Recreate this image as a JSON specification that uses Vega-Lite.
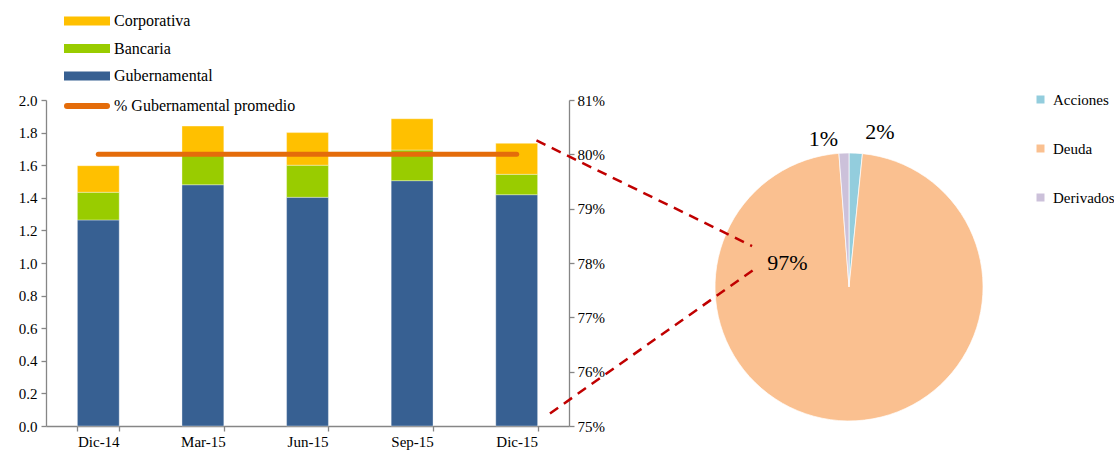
{
  "$schema": "https://vega.github.io/schema/vega-lite/v6.json",
  "width": 523,
  "height": 326,
  "autosize": {"type": "none"},
  "padding": {"left": 46, "top": 100, "right": 545, "bottom": 26},
  "background": "#ffffff",
  "config": {
    "font": "Liberation Serif",
    "view": {"stroke": null},
    "axis": {"labelFont": "Liberation Serif", "labelFontSize": 15, "labelColor": "#000000", "domainColor": "#868686", "tickColor": "#868686", "grid": false, "title": null, "tickSize": 5, "domainWidth": 1.3, "tickWidth": 1.3},
    "legend": {"labelFont": "Liberation Serif", "labelFontSize": 16, "labelColor": "#000000", "title": null, "padding": 0, "labelLimit": 400}
  },
  "datasets": {
    "bonos": [
      {"fecha": "Dic-14", "tipo": "Gubernamental", "orden": 1, "valor": 1.264},
      {"fecha": "Dic-14", "tipo": "Bancaria", "orden": 2, "valor": 0.17},
      {"fecha": "Dic-14", "tipo": "Corporativa", "orden": 3, "valor": 0.163},
      {"fecha": "Mar-15", "tipo": "Gubernamental", "orden": 1, "valor": 1.48},
      {"fecha": "Mar-15", "tipo": "Bancaria", "orden": 2, "valor": 0.18},
      {"fecha": "Mar-15", "tipo": "Corporativa", "orden": 3, "valor": 0.18},
      {"fecha": "Jun-15", "tipo": "Gubernamental", "orden": 1, "valor": 1.403},
      {"fecha": "Jun-15", "tipo": "Bancaria", "orden": 2, "valor": 0.197},
      {"fecha": "Jun-15", "tipo": "Corporativa", "orden": 3, "valor": 0.2},
      {"fecha": "Sep-15", "tipo": "Gubernamental", "orden": 1, "valor": 1.505},
      {"fecha": "Sep-15", "tipo": "Bancaria", "orden": 2, "valor": 0.188},
      {"fecha": "Sep-15", "tipo": "Corporativa", "orden": 3, "valor": 0.192},
      {"fecha": "Dic-15", "tipo": "Gubernamental", "orden": 1, "valor": 1.419},
      {"fecha": "Dic-15", "tipo": "Bancaria", "orden": 2, "valor": 0.125},
      {"fecha": "Dic-15", "tipo": "Corporativa", "orden": 3, "valor": 0.19}
    ],
    "promedio": [
      {"fecha": "Dic-14", "serie": "% Gubernamental promedio", "pct": 0.8},
      {"fecha": "Mar-15", "serie": "% Gubernamental promedio", "pct": 0.8},
      {"fecha": "Jun-15", "serie": "% Gubernamental promedio", "pct": 0.8},
      {"fecha": "Sep-15", "serie": "% Gubernamental promedio", "pct": 0.8},
      {"fecha": "Dic-15", "serie": "% Gubernamental promedio", "pct": 0.8}
    ],
    "cartera": [
      {"clase": "Acciones", "orden": 1, "valor": 0.016},
      {"clase": "Deuda", "orden": 2, "valor": 0.972},
      {"clase": "Derivados", "orden": 3, "valor": 0.012}
    ]
  },
  "layer": [
    {
      "layer": [
        {
          "data": {"name": "bonos"},
          "mark": {"type": "bar", "stroke": "#ffffff", "strokeWidth": 0.5, "strokeOpacity": 0.7},
          "encoding": {
            "x": {"field": "fecha", "type": "nominal", "sort": ["Dic-14", "Mar-15", "Jun-15", "Sep-15", "Dic-15"], "scale": {"paddingInner": 0.6, "paddingOuter": 0.3}, "axis": {"labelAngle": 0, "tickBand": "extent", "labelPadding": 3, "labelFont": "Liberation Serif", "labelFontSize": 15}},
            "y": {"field": "valor", "type": "quantitative", "stack": "zero", "scale": {"domain": [0, 2], "nice": false}, "axis": {"orient": "left", "values": [0, 0.2, 0.4, 0.6, 0.8, 1, 1.2, 1.4, 1.6, 1.8, 2], "format": ".1f", "labelPadding": 4, "labelFont": "Liberation Serif", "labelFontSize": 15}},
            "color": {"field": "tipo", "type": "nominal", "scale": {"domain": ["Corporativa", "Bancaria", "Gubernamental"], "range": ["#FFC000", "#99CC00", "#376092"]}, "legend": {"orient": "none", "legendX": 31, "legendY": -89, "symbolType": "M-2.3,-0.45H2.3V0.45H-2.3Z", "symbolSize": 400, "symbolStrokeWidth": 0, "rowPadding": 9.5, "labelOffset": 17, "labelFontSize": 16, "labelFont": "Liberation Serif", "labelLimit": 400}},
            "order": {"field": "orden", "type": "quantitative"}
          }
        },
        {
          "data": {"name": "promedio"},
          "mark": {"type": "line", "strokeWidth": 5, "strokeCap": "round"},
          "encoding": {
            "x": {"field": "fecha", "type": "nominal", "sort": ["Dic-14", "Mar-15", "Jun-15", "Sep-15", "Dic-15"]},
            "y": {"field": "pct", "type": "quantitative", "scale": {"domain": [0.75, 0.81], "nice": false, "zero": false}, "axis": {"orient": "right", "values": [0.75, 0.76, 0.77, 0.78, 0.79, 0.8, 0.81], "format": ".0%", "labelPadding": 3, "labelFont": "Liberation Serif", "labelFontSize": 15}},
            "stroke": {"field": "serie", "type": "nominal", "scale": {"range": ["#E46C0A"]}, "legend": {"orient": "none", "legendX": 18, "legendY": -17, "symbolType": "stroke", "symbolSize": 1600, "symbolStrokeWidth": 6, "labelOffset": 4, "labelFontSize": 16, "labelFont": "Liberation Serif", "labelLimit": 400, "encode": {"symbols": {"update": {"strokeCap": {"value": "round"}}}}}}
          }
        }
      ],
      "resolve": {"scale": {"y": "independent"}}
    },
    {
      "data": {"name": "cartera"},
      "layer": [
        {
          "mark": {"type": "arc", "radius": 134, "stroke": "#ffffff", "strokeWidth": 0.7},
          "encoding": {
            "x": {"datum": 8.177, "type": "quantitative", "scale": {"domain": [0.5, 5.5], "nice": false, "zero": false}, "axis": null},
            "y": {"datum": 0.853, "type": "quantitative", "scale": {"domain": [0, 2], "nice": false}, "axis": null},
            "theta": {"field": "valor", "type": "quantitative", "stack": true},
            "order": {"field": "orden", "type": "quantitative"},
            "fill": {"field": "clase", "type": "nominal", "scale": {"domain": ["Acciones", "Deuda", "Derivados"], "range": ["#93CDDD", "#FAC090", "#CCC1DA"]}, "legend": {"orient": "none", "legendX": 987, "legendY": -8, "symbolType": "square", "symbolSize": 64, "symbolStrokeWidth": 0, "rowPadding": 33, "labelOffset": 5, "labelFontSize": 15, "labelFont": "Liberation Serif"}}
          }
        },
        {
          "transform": [{"filter": "datum.clase == 'Acciones'"}],
          "mark": {"type": "text", "font": "Liberation Serif", "fontSize": 22, "align": "center", "baseline": "alphabetic", "dx": 31, "dy": -148, "color": "#000000"},
          "encoding": {
            "x": {"datum": 8.177, "type": "quantitative"},
            "y": {"datum": 0.853, "type": "quantitative"},
            "text": {"field": "valor", "type": "quantitative", "format": ".0%"}
          }
        },
        {
          "transform": [{"filter": "datum.clase == 'Derivados'"}],
          "mark": {"type": "text", "font": "Liberation Serif", "fontSize": 22, "align": "center", "baseline": "alphabetic", "dx": -25.5, "dy": -140.7, "color": "#000000"},
          "encoding": {
            "x": {"datum": 8.177, "type": "quantitative"},
            "y": {"datum": 0.853, "type": "quantitative"},
            "text": {"field": "valor", "type": "quantitative", "format": ".0%"}
          }
        },
        {
          "transform": [{"filter": "datum.clase == 'Deuda'"}],
          "mark": {"type": "text", "font": "Liberation Serif", "fontSize": 22, "align": "center", "baseline": "alphabetic", "dx": -61.7, "dy": -17, "color": "#000000"},
          "encoding": {
            "x": {"datum": 8.177, "type": "quantitative"},
            "y": {"datum": 0.853, "type": "quantitative"},
            "text": {"field": "valor", "type": "quantitative", "format": ".0%"}
          }
        },
        {
          "data": {"values": [{}]},
          "mark": {"type": "rule", "color": "#C00000", "strokeWidth": 2.5, "strokeDash": [10, 7]},
          "encoding": {
            "x": {"datum": 5.189, "type": "quantitative"},
            "x2": {"datum": 7.25},
            "y": {"datum": 1.752, "type": "quantitative"},
            "y2": {"datum": 1.104}
          }
        },
        {
          "data": {"values": [{}]},
          "mark": {"type": "rule", "color": "#C00000", "strokeWidth": 2.5, "strokeDash": [10, 7]},
          "encoding": {
            "x": {"datum": 5.318, "type": "quantitative"},
            "x2": {"datum": 7.288},
            "y": {"datum": 0.077, "type": "quantitative"},
            "y2": {"datum": 0.969}
          }
        }
      ]
    }
  ],
  "resolve": {"scale": {"x": "independent", "y": "independent"}}
}
